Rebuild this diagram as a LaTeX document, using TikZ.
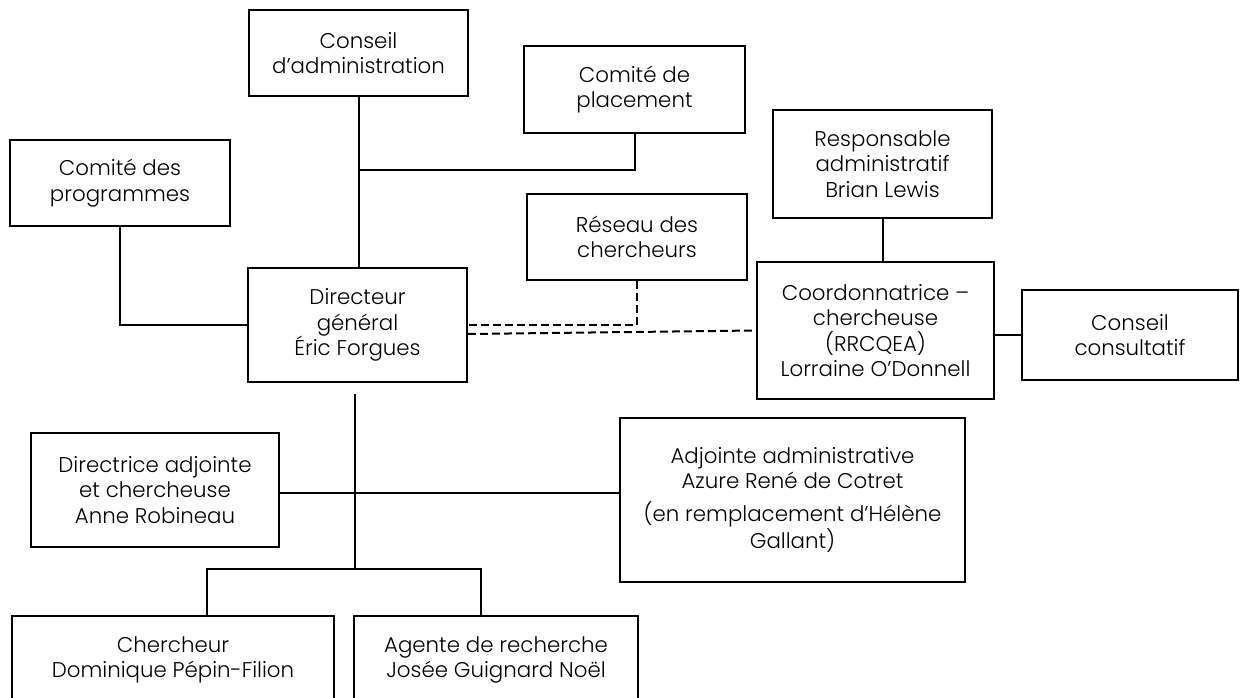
\documentclass[tikz,border=0pt]{standalone}
\usepackage{fontspec}
\setmainfont{Poppins}[UprightFont=* Light]
\usetikzlibrary{calc}
\tikzset{
  bx/.style n args={4}{draw, line width=1.5pt, align=center, inner sep=0pt,
    minimum width={(#2-#1)*0.75pt}, minimum height={(#4-#3)*0.75pt},
    at={({(#1+#2)/2},{(#3+#4)/2})}, font=\fontsize{16}{19}\selectfont},
  ln/.style={line width=1.5pt},
  dln/.style={line width=1.5pt, dash pattern=on 6pt off 3pt}
}
\begin{document}
\begin{tikzpicture}[x=0.75pt,y=-0.75pt]
\useasboundingbox (0,0) rectangle (1240,698);
\clip (0,0) rectangle (1240,698);
\node[bx={249}{468}{10}{96}] (ca) {Conseil\\d’administration};
\node[bx={524}{745}{46}{133}] (cp) {Comité de\\placement};
\node[bx={10}{230}{140}{226}] (prog) {Comité des\\programmes};
\node[bx={773}{992}{110}{218}] (resp) {Responsable\\administratif\\Brian Lewis};
\node[bx={527}{747}{194}{280}] (res) {Réseau des\\chercheurs};
\node[bx={248}{467}{268}{382}] (dg) {Directeur\\général\\Éric Forgues};
\node[bx={757}{994}{262}{399}] (coord) {Coordonnatrice –\\chercheuse\\(RRCQEA)\\Lorraine O’Donnell};
\node[bx={1022}{1238}{290}{380}] (cons) {Conseil\\consultatif};
\node[bx={31}{279}{433}{547}] (dira) {Directrice adjointe\\et chercheuse\\Anne Robineau};
\node[bx={620}{965}{418}{582}] (adj) {Adjointe administrative\\Azure René de Cotret\\[6pt](en remplacement d’Hélène\\Gallant)};
\node[bx={12}{334}{616}{704}] (cher) {Chercheur\\Dominique Pépin-Filion};
\node[bx={354}{638}{616}{704}] (agent) {Agente de recherche\\Josée Guignard Noël};
\coordinate (j1) at (358,170);
\coordinate (j2) at (355,394);
\coordinate (j3) at (355,569);
\coordinate (j4) at (355,493);
\coordinate (j5) at (207,569);
\coordinate (j6) at (481,569);
\draw[ln] (ca.south) -- (ca.south |- dg.north);
\draw[ln] (cp.south) |- (j1);
\draw[ln] (prog.south) |- (dg.west);
\draw[ln] (resp.south) -- (resp.south |- coord.north);
\draw[ln] (cons.west) -- (cons.west -| coord.east);
\draw[dln] (res.south) |- (dg.east);
\draw[dln] ($(dg.east)+(0,9)$) -- (coord.west);
\draw[ln] (j2) -- (j3);
\draw[ln] (dira.east |- j4) -- (adj.west |- j4);
\draw[ln] (j5 |- cher.north) -- (j5) -- (j6) -- (j6 |- agent.north);
\end{tikzpicture}
\end{document}
